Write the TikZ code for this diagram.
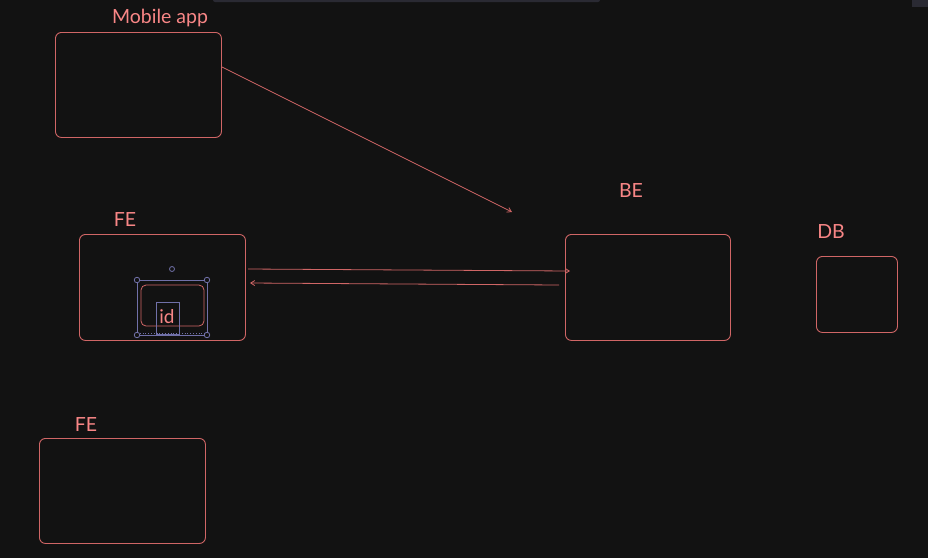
\documentclass[tikz,border=0pt]{standalone}
\usepackage{fontspec}
\setmainfont{Lato}
\usetikzlibrary{arrows.meta}
\definecolor{bg}{HTML}{121212}
\definecolor{boxline}{HTML}{D06666}
\definecolor{labelred}{HTML}{F88686}
\definecolor{selblue}{HTML}{7070A8}
\definecolor{topbar}{HTML}{2A2A33}
\tikzset{
  x=1pt, y=-1pt,
  box/.style={draw=boxline, line width=0.9pt, rounded corners=6pt},
  lbl/.style={text=labelred, font=\fontsize{19.5}{22}\selectfont, inner sep=0pt},
  conn/.style={draw=boxline, line width=0.8pt, -{Straight Barb[length=4pt,width=5pt]}},
  sel/.style={draw=selblue, line width=0.8pt},
  handle/.style={draw=selblue, line width=0.8pt, fill=bg, circle, inner sep=0pt, minimum size=5.5pt}
}
\begin{document}
\begin{tikzpicture}
\fill[bg] (0,0) rectangle (928,558);
\useasboundingbox (0,0) rectangle (928,558);
\fill[topbar, rounded corners=2pt] (213,-3) rectangle (600,2);
\fill[topbar] (912,-3) rectangle (928,7);

% boxes
\node[box, minimum width=166pt, minimum height=105pt, anchor=north west] (mob) at (55,32) {};
\node[box, minimum width=166pt, minimum height=106pt, anchor=north west] (fe) at (79,234) {};
\node[box, minimum width=165pt, minimum height=106pt, anchor=north west] (be) at (565,234) {};
\node[box, minimum width=81pt, minimum height=76pt, anchor=north west] (db) at (816,256) {};
\node[box, minimum width=166pt, minimum height=105pt, anchor=north west] (fe2) at (39,438) {};

% labels
\node[lbl] (lmob) at (160,18) {Mobile app};
\node[lbl] (lfe) at (125,220) {FE};
\node[lbl] (lbe) at (631,191) {BE};
\node[lbl] (ldb) at (831,232) {DB};
\node[lbl] (lfe2) at (86,425) {FE};

% connectors
\coordinate (m1) at (222,67);
\coordinate (m2) at (512,212);
\draw[conn] (m1) -- (m2);
\coordinate (a1) at (248,269);
\coordinate (a2) at (570,271);
\draw[conn] (a1) -- (a2);
\coordinate (b1) at (559,285);
\coordinate (b2) at (250,283);
\draw[conn] (b1) -- (b2);

% inner selected element
\draw[box, line width=0.8pt, rounded corners=5pt] (141,285) rectangle (204,326);
\node[sel, minimum width=23pt, minimum height=32pt, anchor=north west, inner sep=0pt] (idbox) at (156,302) {};
\node[text=labelred, font=\fontsize{19}{22}\selectfont, inner sep=0pt] (id) at (167,317) {id};
\draw[sel] (137,280) rectangle (207,335);
\draw[sel, dotted] (137,333) -- (207,333);
\node[handle] (h1) at (137,280) {};
\node[handle] (h2) at (207,280) {};
\node[handle] (h3) at (137,335) {};
\node[handle] (h4) at (207,335) {};
\node[handle, minimum size=5pt] (rot) at (172,269) {};
\end{tikzpicture}
\end{document}
